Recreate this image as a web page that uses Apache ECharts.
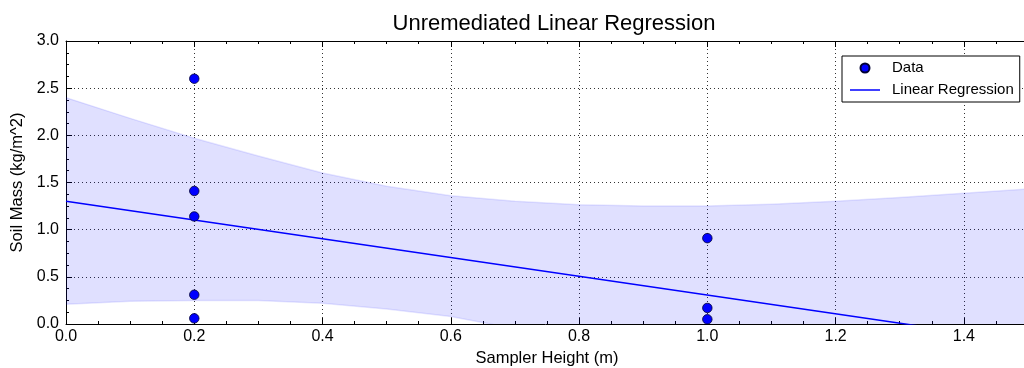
<!DOCTYPE html>
<html>
<head>
<meta charset="utf-8">
<script src="https://cdn.jsdelivr.net/npm/echarts@6/dist/echarts.min.js"></script>
<style>
  html, body { margin: 0; padding: 0; background: #fff; }
  #chart { width: 1024px; height: 368px; }
</style>
</head>
<body>
<div id="chart"></div>
<script>
// measured points
const dataX = [0.2, 0.2, 0.2, 0.2, 0.2, 1.0, 1.0, 1.0]
const dataY = [2.60, 1.41, 1.14, 0.31, 0.06, 0.91, 0.17, 0.05]

// fitted line (end points)
const fitX = [0, 1.5]
const fitY = [1.30, -0.19]

// confidence band edges
const bandX = [0, 0.1, 0.2, 0.3, 0.4, 0.5, 0.6, 0.7, 0.8, 0.9, 1.0, 1.1, 1.2, 1.3, 1.4, 1.5]
const bandUpper = [2.40, 2.18, 1.97, 1.78, 1.60, 1.46, 1.36, 1.30, 1.265, 1.25, 1.25, 1.27, 1.30, 1.34, 1.385, 1.43]
const bandLower = [0.21, 0.24, 0.25, 0.25, 0.22, 0.16, 0.08, -0.05, -0.23, -0.45, -0.62, -0.82, -1.02, -1.22, -1.44, -1.66]

const FONT = 'Liberation Sans, Arial, sans-serif'

const chart = echarts.init(document.getElementById('chart'))

const tickStyle = { inside: true, length: 6, lineStyle: { color: '#000', width: 1 } }
const minorStyle = { show: true, splitNumber: 4, length: 3, lineStyle: { color: '#000', width: 1 } }
const gridDots = { show: true, lineStyle: { color: '#333', width: 1, type: [1, 3] } }

const bandData = bandX.map((x, i) => [x, bandLower[i], bandUpper[i]])

// one polygon: upper edge left->right, lower edge right->left
function renderBand(params, api) {
  if (params.dataIndex !== 0) return
  const top = bandData.map(d => api.coord([d[0], d[2]]))
  const bottom = bandData.map(d => api.coord([d[0], d[1]])).reverse()
  const edge = { fill: null, stroke: 'rgba(0,0,255,0.1)', lineWidth: 1.5 }
  return {
    type: 'group',
    children: [
      {
        type: 'polygon',
        shape: { points: top.concat(bottom) },
        style: { fill: 'rgba(0,0,255,0.12)', stroke: null },
      },
      { type: 'polyline', shape: { points: top }, style: edge },
      { type: 'polyline', shape: { points: bottom }, style: edge },
    ],
  }
}

const option = {
  animation: false,
  title: {
    text: 'Unremediated Linear Regression',
    left: 549,
    top: 8,
    textAlign: 'center',
    textStyle: { fontFamily: FONT, fontSize: 22, fontWeight: 'normal', color: '#000' },
  },
  legend: {
    data: [
      { name: 'Data', icon: 'circle' },
      { name: 'Linear Regression', icon: 'path://M0,0H30V1.5H0Z' },
    ],
    orient: 'vertical',
    left: 842,
    top: 56,
    padding: [4, 6, 4, 8],
    itemWidth: 30,
    itemHeight: 9,
    itemGap: 6,
    backgroundColor: '#fff',
    borderColor: '#000',
    borderWidth: 1,
    borderRadius: 0,
    textStyle: { fontFamily: FONT, fontSize: 15, lineHeight: 16, color: '#000', padding: [0, 0, 0, 7] },
  },
  grid: {
    left: 66,
    top: 41,
    width: 962,
    height: 283,
    outerBoundsMode: 'none',
  },
  xAxis: [
    {
      type: 'value',
      min: 0,
      max: 1.5,
      interval: 0.2,
      name: 'Sampler Height (m)',
      nameLocation: 'middle',
      nameGap: 24,
      nameTextStyle: { fontFamily: FONT, fontSize: 16.5, color: '#000' },
      axisLine: { show: true, onZero: false, lineStyle: { color: '#000', width: 1 } },
      axisTick: tickStyle,
      minorTick: minorStyle,
      splitLine: gridDots,
      axisLabel: {
        showMaxLabel: false,
        margin: 5,
        fontFamily: FONT,
        fontSize: 16,
        color: '#000',
        formatter: v => v.toFixed(1),
      },
    },
    {
      type: 'value',
      position: 'top',
      min: 0,
      max: 1.5,
      interval: 0.2,
      axisLine: { show: true, onZero: false, lineStyle: { color: '#000', width: 1 } },
      axisTick: tickStyle,
      minorTick: minorStyle,
      splitLine: { show: false },
      axisLabel: { show: false },
    },
  ],
  yAxis: {
    type: 'value',
    min: 0,
    max: 3,
    interval: 0.5,
    name: 'Soil Mass (kg/m^2)',
    nameLocation: 'middle',
    nameGap: 38,
    nameTextStyle: { fontFamily: FONT, fontSize: 16.5, color: '#000' },
    axisLine: { show: true, onZero: false, lineStyle: { color: '#000', width: 1 } },
    axisTick: tickStyle,
    minorTick: minorStyle,
    splitLine: gridDots,
    axisLabel: {
      margin: 7,
      fontFamily: FONT,
      fontSize: 16,
      color: '#000',
      formatter: v => v.toFixed(1),
    },
  },
  series: [
    {
      name: 'band',
      type: 'custom',
      renderItem: renderBand,
      clip: true,
      silent: true,
      encode: { x: 0, y: [1, 2] },
      data: bandData,
      z: 1,
    },
    {
      name: 'Linear Regression',
      type: 'line',
      symbol: 'none',
      color: '#0000ff',
      lineStyle: { color: '#0000ff', width: 1.5 },
      data: fitX.map((x, i) => [x, fitY[i]]),
      z: 3,
    },
    {
      name: 'Data',
      type: 'scatter',
      symbol: 'circle',
      symbolSize: 9.5,
      color: '#0000ff',
      itemStyle: { color: '#0000ff', opacity: 1, borderColor: '#000033', borderWidth: 0.8 },
      data: dataX.map((x, i) => [x, dataY[i]]),
      z: 4,
    },
  ],
}

chart.setOption(option)
</script>
</body>
</html>
